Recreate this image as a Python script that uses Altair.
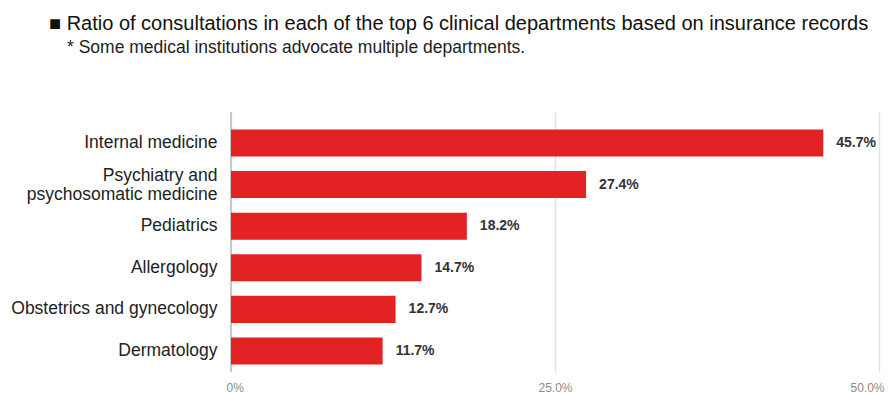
import altair as alt
import pandas as pd

departments = [
    "Internal medicine",
    "Psychiatry and\npsychosomatic medicine",
    "Pediatrics",
    "Allergology",
    "Obstetrics and gynecology",
    "Dermatology",
]
ratios = [45.7, 27.4, 18.2, 14.7, 12.7, 11.7]
x_ticks = [0, 25, 50]
title_text = "\u25a0 Ratio of consultations in each of the top 6 clinical departments based on insurance records"
subtitle_text = "* Some medical institutions advocate multiple departments."

df = pd.DataFrame({"dept": departments, "ratio": ratios})
df["label"] = [f"{v:.1f}%" for v in ratios]

FONT = "Liberation Sans"

y_enc = alt.Y(
    "dept:N",
    sort=departments,
    title=None,
    scale=alt.Scale(paddingInner=0.35, paddingOuter=0.3, align=0.7),
    axis=alt.Axis(
        labelExpr="split(datum.label, '\\n')",
        labelFontSize=17.5,
        labelFont=FONT,
        labelColor="#222222",
        labelPadding=14,
        labelLineHeight=19,
        labelOffset={"condition": {"test": "indexof(datum.value, '\\n') >= 0", "value": -9}, "value": 0},
        ticks=False,
        domain=False,
        labelLimit=400,
    ),
)

x_enc = alt.X(
    "ratio:Q",
    title=None,
    scale=alt.Scale(domain=[0, 50], nice=False),
    axis=alt.Axis(
        values=x_ticks,
        labelExpr="datum.value == 0 ? '0%' : format(datum.value, '.1f') + '%'",
        labelFontSize=12,
        labelFont=FONT,
        labelColor="#8a8a8a",
        labelPadding=10,
        labelFlush=True,
        labelFlushOffset=5,
        ticks=False,
        domain=False,
        grid=True,
        gridColor="#e2e2e2",
        gridWidth=1.5,
    ),
)

bars = alt.Chart(df).mark_bar(color="#e32224").encode(x=x_enc, y=y_enc)

texts = alt.Chart(df).mark_text(
    align="left", dx=13, fontSize=14, fontWeight="bold", font=FONT, color="#333333"
).encode(x="ratio:Q", y=alt.Y("dept:N", sort=departments), text="label:N")

zero = alt.Chart(pd.DataFrame({"z": [0]})).mark_rule(color="#bbbbbb", strokeWidth=1.5).encode(x="z:Q")

title_mark = alt.Chart(pd.DataFrame({"t": [title_text]})).mark_text(
    align="left", baseline="alphabetic", fontSize=20, font=FONT, color="#111111"
).encode(x=alt.value(-182), y=alt.value(-82), text="t:N")

subtitle_mark = alt.Chart(pd.DataFrame({"t": [subtitle_text]})).mark_text(
    align="left", baseline="alphabetic", fontSize=17.5, font=FONT, color="#222222"
).encode(x=alt.value(-164), y=alt.value(-59), text="t:N")

chart = (
    alt.layer(zero, bars, texts, title_mark, subtitle_mark)
    .properties(
        width=648,
        height=260,
        autosize=alt.AutoSizeParams(type="none"),
        padding={"left": 223, "top": 104, "right": 8, "bottom": 22},
    )
    .configure_view(stroke=None)
)

chart.save("out.html", embed_options={"renderer": "svg", "actions": False})
